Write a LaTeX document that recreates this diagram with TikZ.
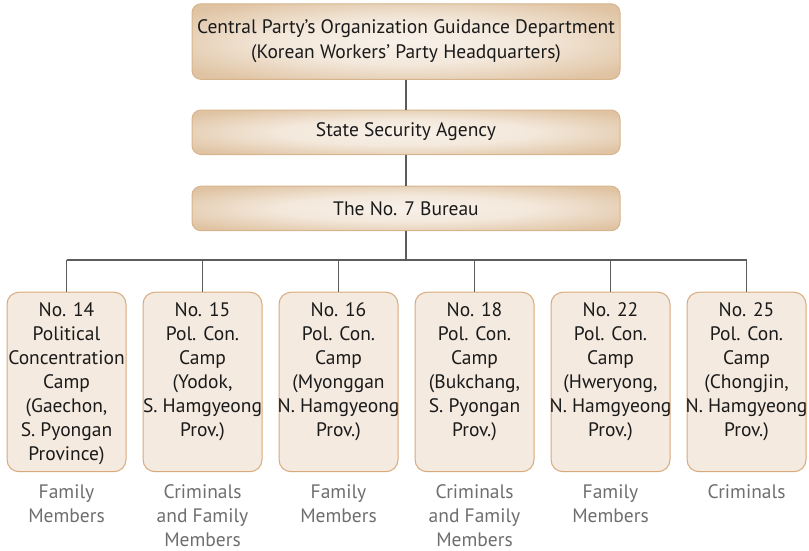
\documentclass[tikz,border=0pt]{standalone}
\usepackage{fontspec}
\setmainfont{PT Sans}
\usetikzlibrary{positioning}
\definecolor{glowin}{HTML}{F8F1E9}
\definecolor{glowout}{HTML}{DFC3A2}
\definecolor{rimtop}{HTML}{D8B48C}
\definecolor{campfill}{HTML}{F4EAE0}
\definecolor{camprim}{HTML}{D8AA7A}
\definecolor{wire}{HTML}{5C5C5C}
\definecolor{note}{HTML}{6E6E6E}
\definecolor{ink}{HTML}{1A1A1A}
\pgfdeclareradialshading{softglow}{\pgfpoint{0bp}{0bp}}{%
  color(0bp)=(glowin); color(15bp)=(glowin!80!glowout);
  color(32bp)=(glowout); color(50bp)=(glowout)}
\tikzset{
  x=1pt, y=-1pt,
  headbox/.style={draw=rimtop, line width=1pt, rounded corners=9pt,
    shading=softglow, minimum width=428pt, anchor=north, inner sep=0pt},
  campbox/.style={draw=camprim, line width=1pt, rounded corners=12pt,
    fill=campfill, minimum width=119pt, minimum height=179.5pt, anchor=north, inner sep=0pt},
  camptext/.style={font=\fontsize{19.5}{24}\selectfont, text=ink, align=center,
    anchor=north, inner sep=0pt},
  headtext/.style={font=\fontsize{19.5}{25.5}\selectfont, text=ink, align=center, inner sep=0pt},
  notetext/.style={font=\fontsize{19.5}{24}\selectfont, text=note, align=center,
    anchor=north, inner sep=0pt},
  wireline/.style={draw=wire, line width=1.4pt}
}
\begin{document}
\begin{tikzpicture}
\useasboundingbox (0,0) rectangle (809,550);
% headquarters chain
\node[headbox, minimum height=75.5pt] (hq) at (406,3.3) {};
\node[headtext] (hqt) at (406,41) {Central Party’s Organization Guidance Department\\(Korean Workers’ Party Headquarters)};
\node[headbox, minimum height=44.5pt] (ssa) at (406,109.5) {};
\node[headtext] (ssat) at (406,132) {State Security Agency};
\node[headbox, minimum height=44.5pt] (b7) at (406,185.7) {};
\node[headtext] (b7t) at (406,208.5) {The No. 7 Bureau};
\coordinate (bus) at (406,260);
\draw[wireline] (hq.south) -- (ssa.north);
\draw[wireline] (ssa.south) -- (b7.north);
\draw[wireline] (b7.south) -- (bus);
% camps: box, caption inside from the top, prisoner groups below
\foreach \n/\cx/\txt/\who in {
  c14/66.5/{No. 14\\Political\\Concentration\\Camp\\(Gaechon,\\S. Pyongan\\Province)}/{Family\\Members},
  c15/202.5/{No. 15\\Pol. Con.\\Camp\\(Yodok,\\S. Hamgyeong\\Prov.)}/{Criminals\\and Family\\Members},
  c16/338.5/{No. 16\\Pol. Con.\\Camp\\(Myonggan\\N. Hamgyeong\\Prov.)}/{Family\\Members},
  c18/474.5/{No. 18\\Pol. Con.\\Camp\\(Bukchang,\\S. Pyongan\\Prov.)}/{Criminals\\and Family\\Members},
  c22/610.5/{No. 22\\Pol. Con.\\Camp\\(Hweryong,\\N. Hamgyeong\\Prov.)}/{Family\\Members},
  c25/746.5/{No. 25\\Pol. Con.\\Camp\\(Chongjin,\\N. Hamgyeong\\Prov.)}/{Criminals}} {
  \node[campbox] (\n) at (\cx,291.7) {};
  \node[camptext] (\n t) at (\cx,302) {\txt};
  \node[notetext] (\n w) at (\cx,484) {\who};
  \coordinate (\n top) at (\cx,260);
  \draw[wireline] (\n top) -- (\n.north);
}
\draw[wireline] (c14top) -- (c25top);
\end{tikzpicture}
\end{document}
